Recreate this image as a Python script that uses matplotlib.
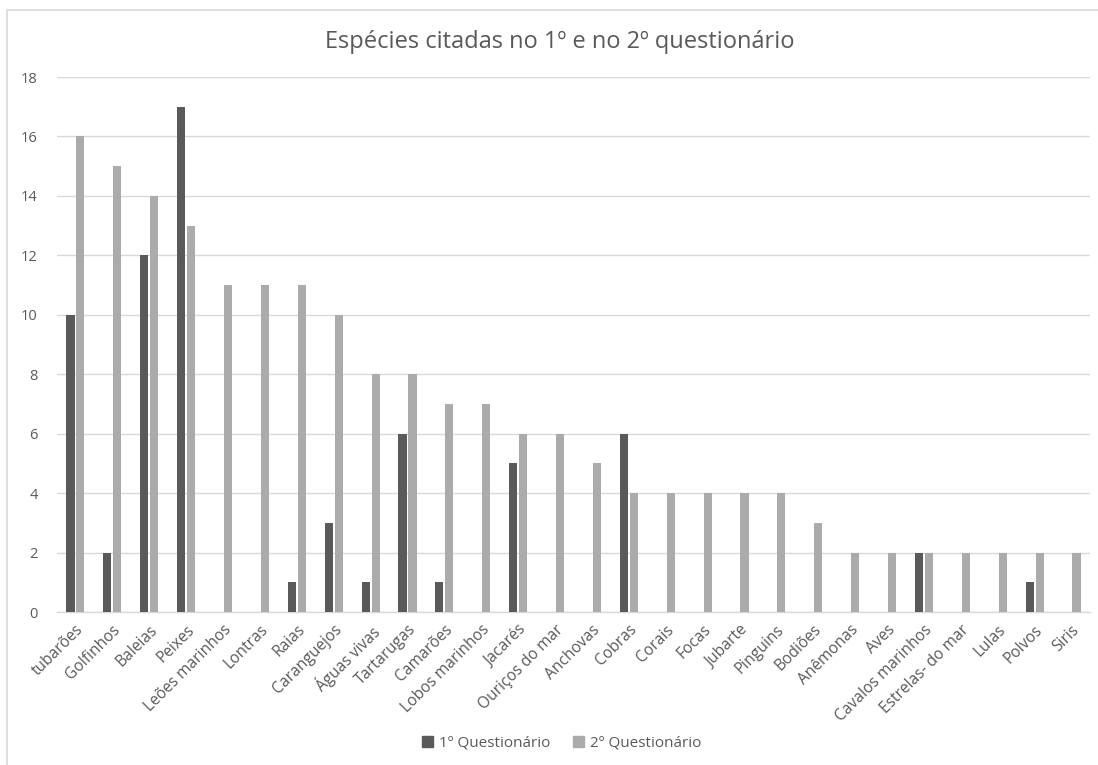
import matplotlib
matplotlib.use("Agg")
import matplotlib.pyplot as plt
import numpy as np
from matplotlib.patches import Rectangle, Patch

categories = ["tubarões", "Golfinhos", "Baleias", "Peixes", "Leões marinhos", "Lontras",
              "Raias", "Caranguejos", "Águas vivas", "Tartarugas", "Camarões",
              "Lobos marinhos", "Jacarés", "Ouriços do mar", "Anchovas", "Cobras",
              "Corais", "Focas", "Jubarte", "Pinguins", "Bodiões", "Anêmonas", "Aves",
              "Cavalos marinhos", "Estrelas- do mar", "Lulas", "Polvos", "Siris"]
q1 = [10, 2, 12, 17, 0, 0, 1, 3, 1, 6, 1, 0, 5, 0, 0, 6, 0, 0, 0, 0, 0, 0, 0, 2, 0, 0, 1, 0]
q2 = [16, 15, 14, 13, 11, 11, 11, 10, 8, 8, 7, 7, 6, 6, 5, 4, 4, 4, 4, 4, 3, 2, 2, 2, 2, 2, 2, 2]
series_names = ["1º Questionário", "2º Questionário"]
yticks = [0, 2, 4, 6, 8, 10, 12, 14, 16, 18]

plt.rcParams['font.family'] = ['Open Sans', 'DejaVu Sans']
text_color = "#595959"
c1 = "#5a5a5a"
c2 = "#ababab"

fig = plt.figure(figsize=(10.98, 7.65), dpi=100)
# outer frame
fig.patches.append(Rectangle((7/1098, -0.05), 1.2, 1 - 10/765 + 0.05,
                             transform=fig.transFigure, fill=False,
                             edgecolor="#d9d9d9", linewidth=1.2))

ax = fig.add_axes([57/1098, 1 - 612/765, (1090 - 57)/1098, (612 - 77)/765])
x = np.arange(len(categories))
w = 0.22
off = 0.135
ax.bar(x - off, q1, width=w, color=c1, label=series_names[0], zorder=3)
ax.bar(x + off, q2, width=w, color=c2, label=series_names[1], zorder=3)

ax.set_xlim(-0.5, len(categories) - 0.5)
ax.set_ylim(0, 18)
ax.set_yticks(yticks)
ax.set_yticklabels([str(v) for v in yticks], fontsize=10.5, color=text_color)
ax.grid(axis='y', color="#d9d9d9", linewidth=1.0, zorder=0)
for s in ["top", "right", "left"]:
    ax.spines[s].set_visible(False)
ax.spines["bottom"].set_color("#d9d9d9")
ax.spines["bottom"].set_linewidth(1.0)
ax.tick_params(axis='both', length=0)
ax.tick_params(axis='y', pad=14)
ax.set_xticks(x)
ax.set_xticklabels(categories, rotation=45, ha='right', rotation_mode='anchor',
                   fontsize=11.2, color=text_color)
ax.tick_params(axis='x', pad=7)

fig.text(560/1098, 1 - 42/765, "Espécies citadas no 1º e no 2º questionário",
         ha='center', va='center', fontsize=17, color=text_color)

handles = [Patch(color=c1), Patch(color=c2)]
fig.legend(handles, series_names, loc='center', bbox_to_anchor=(562/1098, 1 - 743/765),
           ncol=2, frameon=False, fontsize=11, labelcolor=text_color,
           handlelength=0.7, handleheight=0.7, handletextpad=0.4, columnspacing=1.5)

fig.savefig("out.png", dpi=100)
